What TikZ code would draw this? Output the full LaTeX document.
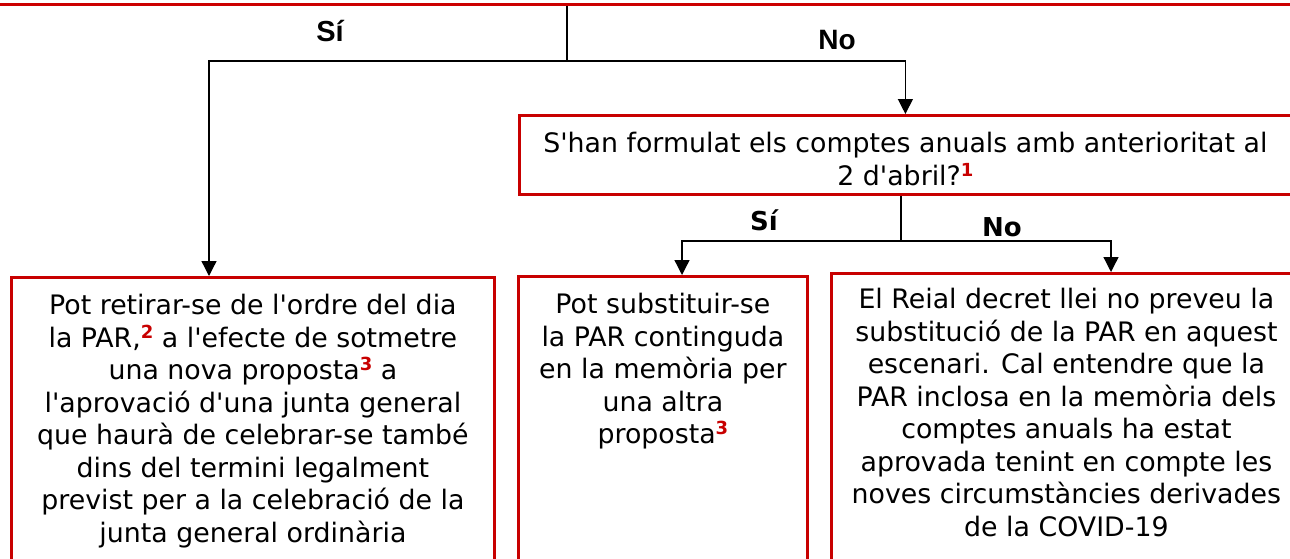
\documentclass[tikz,border=0pt]{standalone}
\usepackage{fontspec}
\setmainfont{DejaVu Sans}[Ligatures=TeXOff]
\newfontfamily\arialfont{Liberation Sans}[Ligatures=TeXOff]
\usetikzlibrary{arrows.meta,calc}
\definecolor{boxred}{HTML}{C80000}
\definecolor{topred}{HTML}{CC0000}
\definecolor{halo}{HTML}{F0B0B0}
\newcommand{\fn}[1]{\raisebox{9pt}{\fontsize{18}{18}\selectfont\bfseries\color{boxred}#1}}
\begin{document}
\begin{tikzpicture}[x=1pt,y=-1pt,
  redbox/.style={draw=boxred,line width=2.8pt,inner sep=0pt,anchor=north west},
  boxtext/.style={anchor=north,inner sep=0pt,align=center,yshift=-18pt,
     font=\fontsize{26.8}{32.5}\selectfont},
  conn/.style={draw=black,line width=1.3pt},
  arr/.style={conn,-{Triangle[width=15pt,length=15pt]}},
  toplab/.style={font=\arialfont\bfseries\fontsize{29}{29}\selectfont,inner sep=0pt},
  lowlab/.style={font=\bfseries\fontsize{26}{26}\selectfont,inner sep=0pt}]
\useasboundingbox (0,0) rectangle (1290,558);
\clip (0,0) rectangle (1290,558);
% top box (only its bottom edge is visible)
\draw[halo,line width=1.2pt] (-10,3.2) -- (1300,3.2);
\node[redbox,draw=topred,line width=3pt,anchor=south,minimum width=1330pt,minimum height=60pt] (top) at (645,6.3) {};
\coordinate (tS) at (567,6);
\coordinate (j1) at (567,61);
% decision box
\node[redbox,minimum width=772pt,minimum height=79pt] (Q) at (518,114) {};
\node[boxtext] (Qt) at (Q.north) {S'han formulat els comptes anuals amb anterioritat al\\2 d'abril?\fn{1}};
% bottom boxes
\node[redbox,minimum width=483pt,minimum height=320pt] (L) at (10,276) {};
\node[boxtext] (Lt) at (L.north) {Pot retirar-se de l'ordre del dia\\la PAR,\fn{2} a l'efecte de sotmetre\\una nova proposta\fn{3} a\\l'aprovació d'una junta general\\que haurà de celebrar-se també\\dins del termini legalment\\previst per a la celebració de la\\junta general ordinària};
\node[redbox,minimum width=289pt,minimum height=320pt] (M) at (517,275) {};
\node[boxtext] (Mt) at (M.north) {Pot substituir-se\\la PAR continguda\\en la memòria per\\una altra\\proposta\fn{3}};
\node[redbox,minimum width=470pt,minimum height=320pt] (R) at (830,272) {};
\node[boxtext,yshift=2pt] (Rt) at (R.north) {El Reial decret llei no preveu la\\substitució de la PAR en aquest\\escenari. Cal entendre que la\\PAR inclosa en la memòria dels\\comptes anuals ha estat\\aprovada tenint en compte les\\noves circumstàncies derivades\\de la COVID-19};
% connectors
\draw[conn] (tS) -- (j1);
\draw[arr] (j1) -| (209,0 |- L.north);
\draw[arr] (j1) -| (Q.north);
\draw[line width=2.4pt] (683,61) -- (700,61);
\coordinate (qS) at (901,0 |- Q.south);
\coordinate (j2) at (901,241);
\draw[conn] (qS) -- (j2);
\draw[arr] (j2) -| (682,0 |- M.north);
\draw[arr] (j2) -| (1111,0 |- R.north);
% labels
\node[toplab] (si1) at (330,31) {Sí};
\node[toplab,font=\arialfont\bfseries\fontsize{28}{28}\selectfont] (no1) at (837,40) {No};
\node[lowlab] (si2) at (764,220) {Sí};
\node[lowlab] (no2) at (1002,227) {No};
\end{tikzpicture}
\end{document}
